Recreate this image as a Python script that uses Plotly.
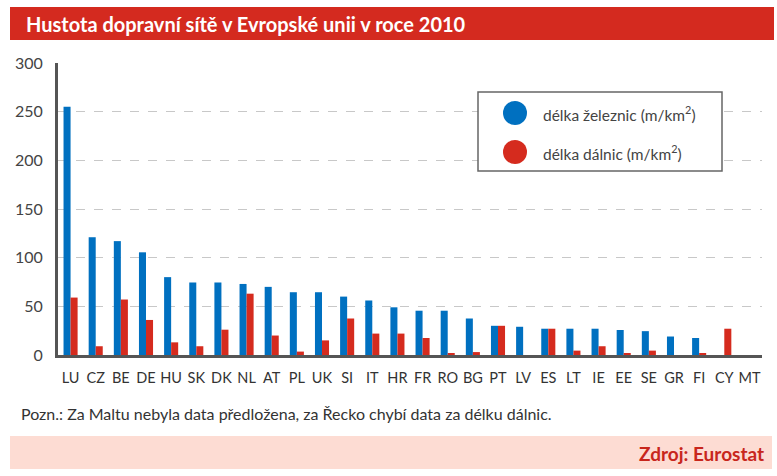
import plotly.graph_objects as go

countries = ["LU", "CZ", "BE", "DE", "HU", "SK", "DK", "NL", "AT", "PL", "UK", "SI", "IT",
             "HR", "FR", "RO", "BG", "PT", "LV", "ES", "LT", "IE", "EE", "SE", "GR", "FI", "CY", "MT"]
rail = [255, 121, 117, 105.5, 80, 74.5, 74.5, 73, 70, 64.5, 64.5, 60, 56,
        49, 45.5, 45.5, 37.5, 30, 29, 27, 27, 27, 25.7, 24.5, 19, 17.5, None, None]
motorway = [59, 9, 57, 36, 13, 9, 26, 63, 20, 3.5, 15, 37.5, 22,
            22, 17.5, 1.5, 3, 30, None, 27, 4.5, 9, 1.5, 4.5, None, 1.5, 27, None]
yticks = [0, 50, 100, 150, 200, 250, 300]

title_text = "Hustota dopravní sítě v Evropské unii v roce 2010"
note_text = "Pozn.: Za Maltu nebyla data předložena, za Řecko chybí data za délku dálnic."
source_text = "Zdroj: Eurostat"
legend_names = ["délka železnic (m/km<sup>2</sup>)", "délka dálnic (m/km<sup>2</sup>)"]

BLUE = "#0070C0"
RED = "#D52B1E"
TITLE_RED = "#D42A1F"
PINK = "#FDDCD3"
FONT = "Lato"

W, H = 777, 476
L, R, T, B = 58, 15, 63, 121
PW = W - L - R
PH = H - T - B


def px(x):
    return (x - L) / PW


def py(y):
    return (H - B - y) / PH


fig = go.Figure()
fig.add_trace(go.Bar(x=countries, y=rail, name=legend_names[0], marker_color=BLUE,
                     marker_line_width=0, showlegend=False))
fig.add_trace(go.Bar(x=countries, y=motorway, name=legend_names[1], marker_color=RED,
                     marker_line_width=0, showlegend=False))

shapes = [
    dict(type="rect", xref="paper", yref="paper", x0=px(10), x1=px(774), y0=py(40), y1=py(7),
         fillcolor=TITLE_RED, line_width=0, layer="below"),
    dict(type="rect", xref="paper", yref="paper", x0=px(10), x1=px(772), y0=py(469), y1=py(436),
         fillcolor=PINK, line_width=0, layer="below"),
    dict(type="rect", xref="paper", yref="paper", x0=px(478), x1=px(722), y0=py(171), y1=py(92),
         fillcolor="white", line=dict(color="#666666", width=1.5), layer="above"),
    dict(type="circle", xref="paper", yref="paper", x0=px(503), x1=px(527), y0=py(125), y1=py(101),
         fillcolor=BLUE, line_width=0, layer="above"),
    dict(type="circle", xref="paper", yref="paper", x0=px(503), x1=px(527), y0=py(164), y1=py(140),
         fillcolor=RED, line_width=0, layer="above"),
]

annotations = [
    dict(text="<b>" + title_text + "</b>", xref="paper", yref="paper", x=px(24), y=py(24),
         xanchor="left", yanchor="middle", showarrow=False,
         font=dict(family=FONT, size=20, color="white")),
    dict(text=note_text, xref="paper", yref="paper", x=px(19), y=py(413),
         xanchor="left", yanchor="middle", showarrow=False,
         font=dict(family=FONT, size=16, color="#333333")),
    dict(text="<b>" + source_text + "</b>", xref="paper", yref="paper", x=px(766), y=py(453),
         xanchor="right", yanchor="middle", showarrow=False,
         font=dict(family=FONT, size=19, color="#C8261C")),
    dict(text=legend_names[0], xref="paper", yref="paper", x=px(541), y=py(113),
         xanchor="left", yanchor="middle", showarrow=False,
         font=dict(family=FONT, size=15.5, color="#444444")),
    dict(text=legend_names[1], xref="paper", yref="paper", x=px(541), y=py(152),
         xanchor="left", yanchor="middle", showarrow=False,
         font=dict(family=FONT, size=15.5, color="#444444")),
]

fig.update_layout(
    width=W, height=H,
    margin=dict(l=L, r=R, t=T, b=B, pad=0),
    paper_bgcolor="white", plot_bgcolor="white",
    barmode="group", bargap=0.44, bargroupgap=0,
    showlegend=False,
    shapes=shapes, annotations=annotations,
    font=dict(family=FONT, color="#333333"),
)
fig.update_xaxes(
    type="category", range=[-0.5, len(countries) - 0.5],
    showline=True, linecolor="#555555", linewidth=3,
    showgrid=False, ticks="", ticklabelstandoff=8,
    tickfont=dict(family=FONT, size=14.5, color="#333333"),
)
fig.update_yaxes(
    range=[0, 300], tickvals=yticks, ticktext=[str(v) for v in yticks],
    showline=True, linecolor="#555555", linewidth=3,
    showgrid=True, gridcolor="#C8C8C8", griddash="dash", gridwidth=1,
    zeroline=False, ticks="", ticklabelstandoff=9,
    tickfont=dict(family=FONT, size=16, color="#444444"),
)

fig.write_html("out.html", config={"displayModeBar": False},
               post_script="document.body.style.margin='0px';document.body.style.overflow='hidden';")
